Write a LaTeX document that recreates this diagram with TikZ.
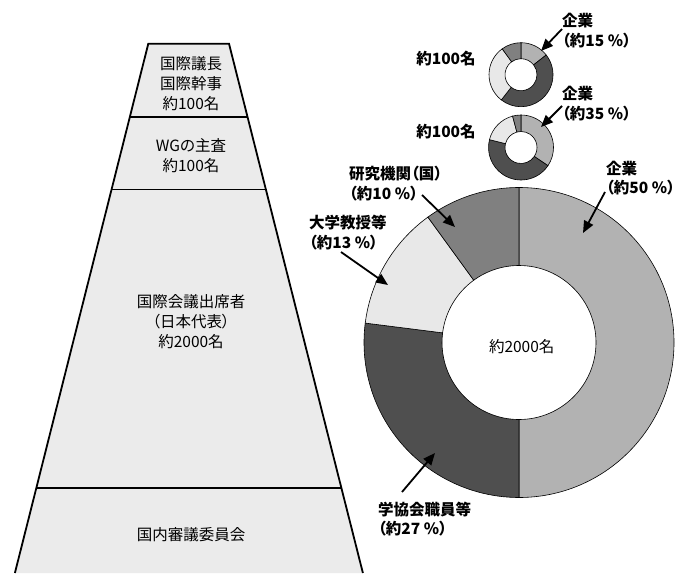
\documentclass[tikz,border=0pt]{standalone}
\usepackage{fontspec}
\setmainfont{Noto Sans CJK JP}[RawFeature=+palt]
\usetikzlibrary{arrows.meta,calc}
\definecolor{trapfill}{HTML}{EBEBEB}
\definecolor{segA}{HTML}{B2B2B2}
\definecolor{segB}{HTML}{4F4F4F}
\definecolor{segC}{HTML}{E8E8E8}
\definecolor{segD}{HTML}{808080}
\newcommand\ringseg[6]{%
  \filldraw[fill=#6,draw=black,line width=0.6pt]
    ([shift={(#4:#3)}]#1) arc[start angle=#4,end angle=#5,radius=#3]
    -- ([shift={(#5:#2)}]#1) arc[start angle=#5,end angle=#4,radius=#2] -- cycle;}
\tikzset{
  trapline/.style={line width=1.8pt},
  traptext/.style={font=\fontsize{15.5}{20}\selectfont, align=center, inner sep=0pt},
  lbl/.style={font=\fontsize{15.5}{19.5}\selectfont\bfseries, align=left, inner sep=0pt, anchor=west},
  cnt/.style={font=\fontsize{15.5}{19.5}\selectfont\bfseries, inner sep=0pt},
  arr/.style={line width=1.8pt, -{Triangle[length=12pt,width=10pt]}}
}
\begin{document}
\begin{tikzpicture}[x=1pt,y=1pt]
\useasboundingbox (0,0) rectangle (690,-573);
\fill[white] (0,0) rectangle (690,-573);
% trapezoid
\coordinate (TL) at (148.3,-43.7);
\coordinate (TR) at (229,-43.7);
\coordinate (BL) at (14.9,-573);
\coordinate (BR) at (362.9,-573);
\fill[trapfill] (BL) -- (TL) -- (TR) -- (BR) -- cycle;
\draw[trapline, line join=miter] (BL) -- (TL) -- (TR) -- (BR);
\draw[trapline] ($(TL)!0.1379!(BL)$) -- ($(TR)!0.1379!(BR)$);
\draw[trapline] ($(TL)!0.2755!(BL)$) -- ($(TR)!0.2755!(BR)$);
\draw[trapline] ($(TL)!0.8388!(BL)$) -- ($(TR)!0.8388!(BR)$);
\node[traptext] (t1) at (191,-83.3) {国際議長\\国際幹事\\約100名};
\node[traptext] (t2) at (191,-155.3) {WGの主査\\約100名};
\node[traptext] (t3) at (191,-322) {国際会議出席者\\（日本代表）\\約2000名};
\node[traptext] (t4) at (191,-535) {国内審議委員会};
% small donut 1
\coordinate (d1) at (521,-74.7);
\ringseg{d1}{16pt}{32pt}{90}{38}{segA}
\ringseg{d1}{16pt}{32pt}{38}{-128}{segB}
\ringseg{d1}{16pt}{32pt}{232}{126}{segC}
\ringseg{d1}{16pt}{32pt}{126}{90}{segD}
% small donut 2
\coordinate (d2) at (521,-147.5);
\ringseg{d2}{16pt}{32.5pt}{90}{-34}{segA}
\ringseg{d2}{16pt}{32.5pt}{-34}{-194}{segB}
\ringseg{d2}{16pt}{32.5pt}{166}{105}{segC}
\ringseg{d2}{16pt}{32.5pt}{105}{90}{segD}
% big donut
\coordinate (db) at (519,-342.5);
\ringseg{db}{77pt}{155pt}{90}{-90}{segA}
\ringseg{db}{77pt}{155pt}{270}{172.8}{segB}
\ringseg{db}{77pt}{155pt}{172.8}{126}{segC}
\ringseg{db}{77pt}{155pt}{126}{90}{segD}
\node[font=\fontsize{15.5}{19.5}\selectfont, inner sep=0pt] (c) at (521.7,-346.7) {約2000名};
% labels
\node[cnt] (n1) at (446,-59) {約100名};
\node[cnt] (n2) at (446,-131.7) {約100名};
\node[lbl] (l1) at (562,-30.8) {企業\\（約15 \%）};
\node[lbl] (l2) at (562,-103.5) {企業\\（約35 \%）};
\node[lbl] (l3) at (606,-178) {企業\\（約50 \%）};
\node[lbl] (l4) at (349,-183.5) {研究機関（国）\\（約10 \%）};
\node[lbl] (l5) at (309,-232.5) {大学教授等\\（約13 \%）};
\node[lbl] (l6) at (378,-519) {学協会職員等\\（約27 \%）};
% arrows
\coordinate (a1s) at (562,-29);  \coordinate (a1e) at (541,-51);
\coordinate (a2s) at (562,-106); \coordinate (a2e) at (541,-127);
\coordinate (a3s) at (605,-192); \coordinate (a3e) at (583,-233);
\coordinate (a4s) at (422,-195); \coordinate (a4e) at (455,-227);
\coordinate (a5s) at (341,-252); \coordinate (a5e) at (388,-285);
\coordinate (a6s) at (402,-492); \coordinate (a6e) at (435,-453);
\draw[arr] (a1s) -- (a1e);
\draw[arr] (a2s) -- (a2e);
\draw[arr] (a3s) -- (a3e);
\draw[arr] (a4s) -- (a4e);
\draw[arr] (a5s) -- (a5e);
\draw[arr] (a6s) -- (a6e);
\end{tikzpicture}
\end{document}
